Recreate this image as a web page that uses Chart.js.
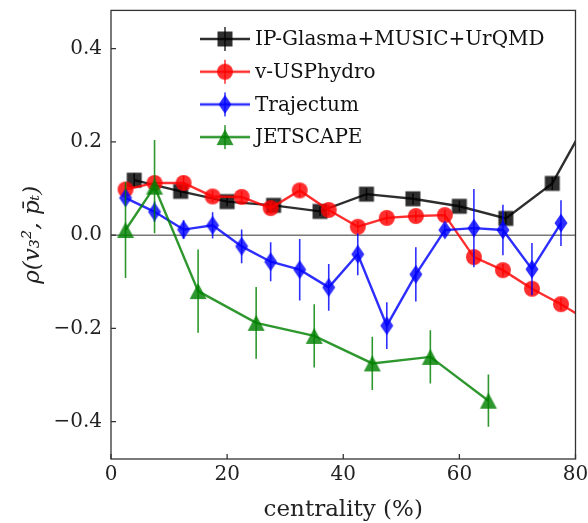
<!doctype html>
<html>
<head>
<meta charset="utf-8">
<title>rho v3 pt</title>
<script src="https://cdn.jsdelivr.net/npm/chart.js@4.4.0/dist/chart.umd.min.js"></script>
<style>
  body { margin: 0; background: #fff; }
</style>
</head>
<body>
<canvas id="chart" width="588" height="523"></canvas>
<script>
  // values
  const centGlasma = [4, 12, 20, 28, 36, 44, 52, 60, 68, 76, 84];
  const rhoGlasma = [0.118, 0.094, 0.072, 0.064, 0.051, 0.088, 0.078, 0.062, 0.036, 0.111, 0.29];
  const errGlasma = [0.015, 0.012, 0.010, 0.010, 0.010, 0.013, 0.012, 0.012, 0.013, 0.014, 0.02];

  const centUSP = [2.5, 7.5, 12.5, 17.5, 22.5, 27.5, 32.5, 37.5, 42.5, 47.5, 52.5, 57.5, 62.5, 67.5, 72.5, 77.5, 82.5];
  const rhoUSP = [0.098, 0.112, 0.112, 0.083, 0.082, 0.058, 0.096, 0.054, 0.018, 0.037, 0.041, 0.043, -0.047, -0.075, -0.115, -0.148, -0.186];
  const errUSP = [0.012, 0.015, 0.015, 0.012, 0.012, 0.012, 0.014, 0.012, 0.012, 0.012, 0.012, 0.012, 0.013, 0.013, 0.014, 0.013, 0.013];

  const centTraj = [2.5, 7.5, 12.5, 17.5, 22.5, 27.5, 32.5, 37.5, 42.5, 47.5, 52.5, 57.5, 62.5, 67.5, 72.5, 77.5];
  const rhoTraj = [0.080, 0.050, 0.012, 0.021, -0.024, -0.057, -0.074, -0.112, -0.041, -0.194, -0.084, 0.011, 0.015, 0.011, -0.073, 0.026];
  const errTraj = [0.017, 0.022, 0.02, 0.028, 0.036, 0.042, 0.066, 0.05, 0.045, 0.05, 0.058, 0.012, 0.084, 0.054, 0.056, 0.049];

  const centJet = [2.5, 7.5, 15, 25, 35, 45, 55, 65];
  const rhoJet = [0.011, 0.104, -0.120, -0.188, -0.216, -0.275, -0.261, -0.355];
  const errJet = [0.103, 0.1, 0.089, 0.077, 0.068, 0.057, 0.057, 0.056];

  const labels = ['IP-Glasma+MUSIC+UrQMD', 'v-USPhydro', 'Trajectum', 'JETSCAPE'];
  const colors = ['rgba(0,0,0,0.82)', 'rgba(255,0,0,0.82)', 'rgba(0,0,255,0.82)', 'rgba(0,128,0,0.82)'];
  const markers = ['square', 'circle', 'diamond', 'triangle'];

  const xTicks = [0, 20, 40, 60, 80];
  const yTicks = [-0.4, -0.2, 0.0, 0.2, 0.4];

  function shape(c, kind, x, y) {
    c.beginPath();
    if (kind == 'square') c.rect(x - 7.5, y - 7.5, 15, 15);
    else if (kind == 'circle') c.arc(x, y, 8, 0, Math.PI * 2);
    else if (kind == 'diamond') { c.moveTo(x, y - 9.5); c.lineTo(x + 6.5, y); c.lineTo(x, y + 9.5); c.lineTo(x - 6.5, y); c.closePath(); }
    else { c.moveTo(x, y - 8); c.lineTo(x + 8.5, y + 8); c.lineTo(x - 8.5, y + 8); c.closePath(); }
    c.fill();
  }

  function markerImg(kind, color) {
    const cv = document.createElement('canvas');
    cv.width = 22; cv.height = 22;
    const c = cv.getContext('2d');
    c.fillStyle = color;
    shape(c, kind, 11, 11);
    return cv;
  }

  function legendImg(kind, color) {
    const cv = document.createElement('canvas');
    cv.width = 50; cv.height = 26;
    const c = cv.getContext('2d');
    c.strokeStyle = color; c.lineWidth = 2.4;
    c.beginPath(); c.moveTo(0, 13); c.lineTo(50, 13); c.stroke();
    c.lineWidth = 1.5;
    c.beginPath(); c.moveTo(25, 1); c.lineTo(25, 25); c.stroke();
    c.fillStyle = color;
    shape(c, kind, 25, 13);
    return cv;
  }

  function series(i, xs, ys, errs) {
    return {
      label: labels[i],
      data: xs.map((x, k) => ({ x: x, y: ys[k] })),
      errors: errs,
      borderColor: colors[i],
      backgroundColor: colors[i],
      borderWidth: 2.4,
      pointStyle: markerImg(markers[i], colors[i]),
      legendIcon: legendImg(markers[i], colors[i]),
      pointRadius: 8,
      order: 4 - i,
      tension: 0
    };
  }

  const serif = '"DejaVu Serif", serif';

  const extras = {
    id: 'extras',
    beforeDatasetsDraw(chart) {
      const { ctx, chartArea: a, scales } = chart;
      const y0 = scales.y.getPixelForValue(0);
      ctx.save();
      ctx.strokeStyle = '#000';
      ctx.lineWidth = 0.8;
      ctx.beginPath(); ctx.moveTo(a.left, y0); ctx.lineTo(a.right, y0); ctx.stroke();
      ctx.restore();
    },
    afterDatasetDraw(chart, args) {
      const ds = chart.data.datasets[args.index];
      const { ctx, chartArea: a, scales } = chart;
      ctx.save();
      ctx.beginPath(); ctx.rect(a.left, a.top, a.right - a.left, a.bottom - a.top); ctx.clip();
      ctx.strokeStyle = ds.borderColor;
      ctx.lineWidth = 1.6;
      ds.data.forEach((p, k) => {
        const px = scales.x.getPixelForValue(p.x);
        ctx.beginPath();
        ctx.moveTo(px, scales.y.getPixelForValue(p.y - ds.errors[k]));
        ctx.lineTo(px, scales.y.getPixelForValue(p.y + ds.errors[k]));
        ctx.stroke();
      });
      ctx.restore();
    },
    afterDraw(chart) {
      const { ctx, chartArea: a, scales } = chart;
      ctx.save();
      ctx.strokeStyle = '#333';
      ctx.lineWidth = 1.3;
      ctx.strokeRect(a.left, a.top, a.right - a.left, a.bottom - a.top);
      ctx.beginPath();
      xTicks.forEach(v => {
        const px = scales.x.getPixelForValue(v);
        ctx.moveTo(px, a.bottom); ctx.lineTo(px, a.bottom - 5);
      });
      yTicks.forEach(v => {
        const py = scales.y.getPixelForValue(v);
        ctx.moveTo(a.left, py); ctx.lineTo(a.left + 5, py);
      });
      ctx.stroke();

      // legend
      ctx.font = '20px ' + serif;
      ctx.textBaseline = 'middle';
      ctx.fillStyle = '#111';
      chart.data.datasets.forEach((ds, i) => {
        const cy = 39 + i * 32.7;
        ctx.drawImage(ds.legendIcon, 200, cy - 13);
        ctx.fillText(ds.label, 255, cy + 1);
      });
      ctx.restore();
    }
  };

  new Chart(document.getElementById('chart'), {
    type: 'line',
    data: {
      datasets: [
        series(0, centGlasma, rhoGlasma, errGlasma),
        series(1, centUSP, rhoUSP, errUSP),
        series(2, centTraj, rhoTraj, errTraj),
        series(3, centJet, rhoJet, errJet)
      ]
    },
    options: {
      responsive: false,
      animation: false,
      events: [],
      layout: { padding: { top: 10, right: 12.5, left: 0, bottom: 0 } },
      plugins: { legend: { display: false }, tooltip: { enabled: false } },
      scales: {
        x: {
          type: 'linear', min: 0, max: 80,
          afterBuildTicks: s => { s.ticks = xTicks.map(v => ({ value: v })); },
          afterFit: s => { s.height = 64; s.paddingLeft = 0; s.paddingRight = 0; },
          grid: { display: false, drawTicks: false },
          border: { display: false },
          ticks: { color: '#222', font: { family: serif, size: 20 }, padding: 4 },
          title: { display: true, text: 'centrality (%)', color: '#222', font: { family: serif, size: 23 }, padding: { top: 0, bottom: -1 } }
        },
        y: {
          type: 'linear', min: -0.48, max: 0.482,
          afterBuildTicks: s => { s.ticks = yTicks.map(v => ({ value: v })); },
          afterFit: s => { s.width = 111; s.paddingTop = 0; s.paddingBottom = 0; },
          grid: { display: false, drawTicks: false },
          border: { display: false },
          ticks: {
            color: '#222', font: { family: serif, size: 20 }, padding: 9,
            callback: v => (v < -1e-9 ? '\u2212' : '') + Math.abs(v).toFixed(1)
          },
          title: { display: true, text: 'ρ(v₃², p̄ₜ)', color: '#222', font: { family: serif, size: 23, style: 'italic' }, padding: { top: 19, bottom: 0 } }
        }
      }
    },
    plugins: [extras]
  });
</script>
</body>
</html>
